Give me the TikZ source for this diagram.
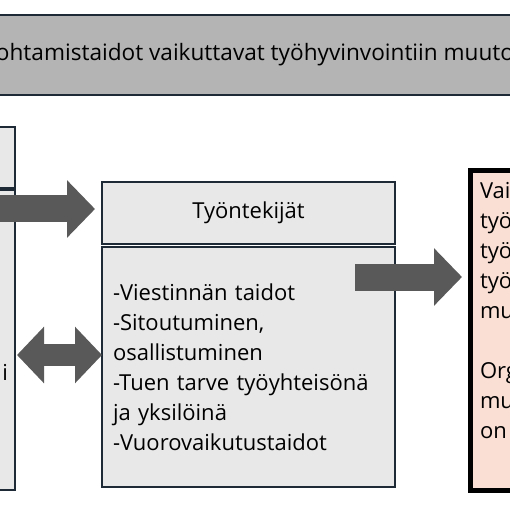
\documentclass[tikz,border=0pt]{standalone}
\usepackage{fontspec}
\setmainfont{Open Sans}
\usepackage{xcolor}
\usepackage{tikz}
\usetikzlibrary{arrows.meta, positioning}

\definecolor{boxline}{HTML}{1E2B36}
\definecolor{boxfill}{HTML}{E8E8E8}
\definecolor{bannerfill}{HTML}{B4B4B4}
\definecolor{resultfill}{HTML}{FADFD5}
\definecolor{arrowgray}{HTML}{595959}

\begin{document}
\begin{tikzpicture}[
  x=1pt, y=-1pt,
  every node/.style={font=\fontsize{22}{30}\selectfont, inner sep=0pt, outer sep=0pt},
  box/.style={draw=boxline, line width=1.5pt, fill=boxfill, anchor=north west},
  banner/.style={draw=boxline, line width=2pt, fill=bannerfill, anchor=north west,
                 font=\fontsize{22.6}{30}\selectfont},
  result/.style={draw=black, line width=5pt, fill=resultfill, anchor=north west},
  blockarrow/.style={draw=arrowgray, line width=27pt},
  bigtip/.tip={Triangle[length=28pt, width=56pt]},
  twotip/.tip={Triangle[length=27pt, width=55pt]}
]
\useasboundingbox (0,0) rectangle (510,510);
\clip (0,0) rectangle (510,510);

% Top banner
\node[banner, minimum width=550pt, minimum height=80pt] (title) at (-20,15)
  {ohtamistaidot vaikuttavat työhyvinvointiin muuto};

% Left column
\node[box, minimum width=45pt, minimum height=61pt] (lefttop) at (-30,127) {};
\node[box, minimum width=45pt, minimum height=300pt] (leftbot) at (-30,190) {};
\node[anchor=east] (leftlbl) at ([xshift=-7pt]leftbot.east |- 0,372) {i};

% Middle column
\node[box, minimum width=293pt, minimum height=62pt] (hdr) at (102,182) {Työntekijät};
\node[box, minimum width=293pt, minimum height=240pt, text width=271pt,
      inner xsep=11pt, align=left] (body) at (102,247)
  {-Viestinnän taidot\\
   -Sitoutuminen,\\
   osallistuminen\\
   -Tuen tarve työyhteisönä\\
   ja yksilöinä\\
   -Vuorovaikutustaidot};

% Right column
\node[result, minimum width=80pt, minimum height=320pt] (res) at (470.5,170.5) {};
\node[anchor=north west, align=left] (restext) at (480,182)
  {Vai\\työ\\työ\\työ\\mu\\[30pt]Org\\mu\\on};

% Arrows
\coordinate (a1) at (-10,209);
\coordinate (a2) at (17,355);
\coordinate (a3) at (355,277);
\draw[blockarrow, -bigtip, shorten >=7pt] (a1) -- (a1 -| hdr.west);
\draw[blockarrow, line width=22pt, twotip-twotip] (a2) -- (a2 -| body.west);
\draw[blockarrow, -bigtip, shorten >=8.5pt] (a3) -- (a3 -| res.west);
\end{tikzpicture}
\end{document}
